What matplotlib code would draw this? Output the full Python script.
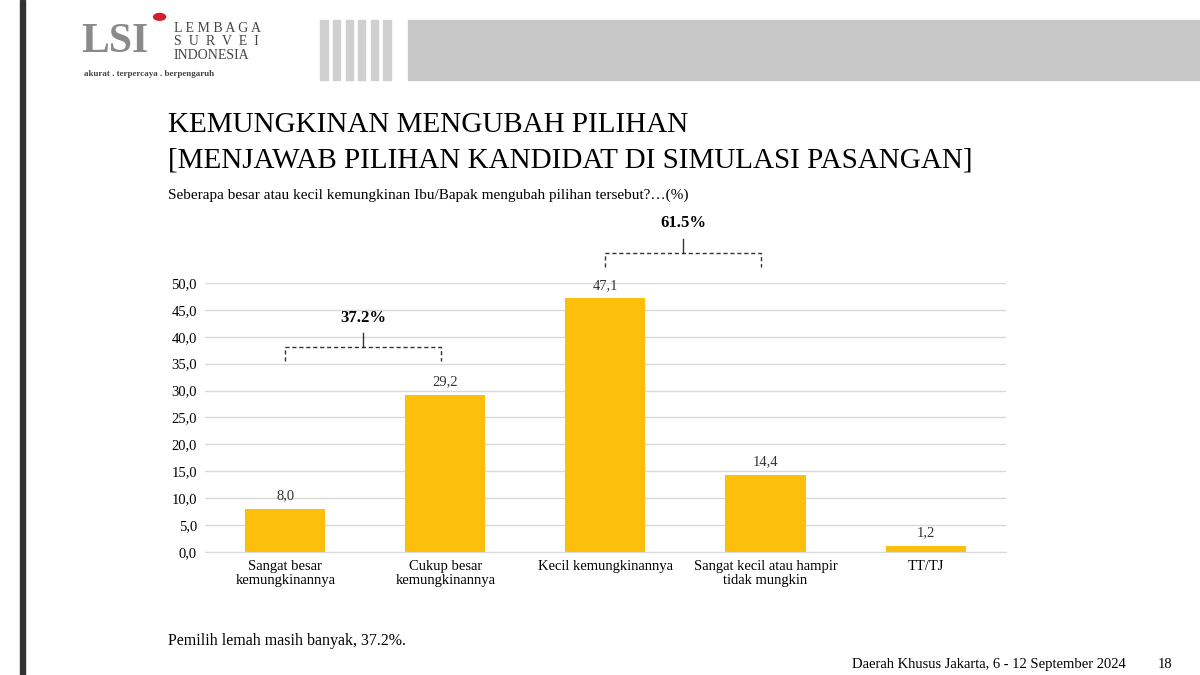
import matplotlib.pyplot as plt
from matplotlib.patches import Rectangle, Circle

plt.rcParams["font.family"] = ["Liberation Serif", "DejaVu Serif"]

categories = ["Sangat besar\nkemungkinannya", "Cukup besar\nkemungkinannya",
              "Kecil kemungkinannya", "Sangat kecil atau hampir\ntidak mungkin", "TT/TJ"]
values = [8.0, 29.2, 47.1, 14.4, 1.2]
yticks = [0, 5, 10, 15, 20, 25, 30, 35, 40, 45, 50]
groups = [(0, 1, "37.2%", 38.0), (2, 3, "61.5%", 55.6)]

fig = plt.figure(figsize=(12, 6.75), dpi=100)
fig.patch.set_facecolor("white")

# page furniture
fig.add_artist(Rectangle((0.017, 0), 0.004, 1, transform=fig.transFigure, color="#333333"))
fig.add_artist(Rectangle((0.34, 0.882), 0.66, 0.088, transform=fig.transFigure, color="#c8c8c8"))
for i in range(6):
    fig.add_artist(Rectangle((0.267 + i * 0.0105, 0.882), 0.006, 0.088,
                             transform=fig.transFigure, color="#d0d0d0"))
fig.text(0.068, 0.91, "LSI", fontsize=30, color="#8a8a8a", weight="bold", va="bottom")
fig.add_artist(Circle((0.133, 0.975), 0.005, transform=fig.transFigure, color="#d0202a"))
fig.text(0.145, 0.958, "L E M B A G A", fontsize=10, color="#444444", va="center")
fig.text(0.145, 0.938, "S  U  R  V  E  I", fontsize=10, color="#444444", va="center")
fig.text(0.145, 0.918, "INDONESIA", fontsize=10, color="#444444", va="center")
fig.text(0.07, 0.89, "akurat . terpercaya . berpengaruh", fontsize=6.5, color="#444444",
         weight="bold", va="center")

fig.text(0.14, 0.815, "KEMUNGKINAN MENGUBAH PILIHAN", fontsize=21, va="center")
fig.text(0.14, 0.762, "[MENJAWAB PILIHAN KANDIDAT DI SIMULASI PASANGAN]", fontsize=21, va="center")
fig.text(0.14, 0.71, "Seberapa besar atau kecil kemungkinan Ibu/Bapak mengubah pilihan tersebut?…(%)",
         fontsize=11, va="center")
fig.text(0.14, 0.05, "Pemilih lemah masih banyak, 37.2%.", fontsize=11.5, va="center")
fig.text(0.71, 0.015, "Daerah Khusus Jakarta, 6 - 12 September 2024", fontsize=10.5, va="center")
fig.text(0.965, 0.015, "18", fontsize=10.5, va="center")

ax = fig.add_axes([0.171, 0.182, 0.667, 0.399])
x = range(len(values))
ax.bar(x, values, width=0.5, color="#fcbf0b", zorder=2)
for xi, v in zip(x, values):
    ax.text(xi, v + 1.2, f"{v:.1f}".replace(".", ","), ha="center", va="bottom",
            fontsize=10.5, color="#333333")
ax.set_xlim(-0.5, 4.5)
ax.set_ylim(0, 50)
ax.set_yticks(yticks)
ax.set_yticklabels([f"{t:.1f}".replace(".", ",") for t in yticks], fontsize=10.5)
ax.set_xticks(list(x))
ax.set_xticklabels(categories, fontsize=10.5, va="top", linespacing=1.1)
ax.grid(axis="y", color="#d9d9d9", lw=1, zorder=0)
for s in ["top", "right", "left"]:
    ax.spines[s].set_visible(False)
ax.spines["bottom"].set_color("#d9d9d9")
ax.tick_params(length=0, pad=6)

for a, b, label, yb in groups:
    x0, x1 = a, b - 0.03
    xm = (x0 + x1) / 2
    kw = dict(color="#333333", lw=1, ls=(0, (3, 2)), clip_on=False)
    ax.plot([x0, x0, x1, x1], [yb - 2.6, yb, yb, yb - 2.6], **kw)
    ax.plot([xm, xm], [yb, yb + 2.6], color="#333333", lw=1, clip_on=False)
    ax.text(xm, yb + 4.0, label, ha="center", va="bottom", fontsize=12, weight="bold")

fig.savefig("out.png", dpi=100)
